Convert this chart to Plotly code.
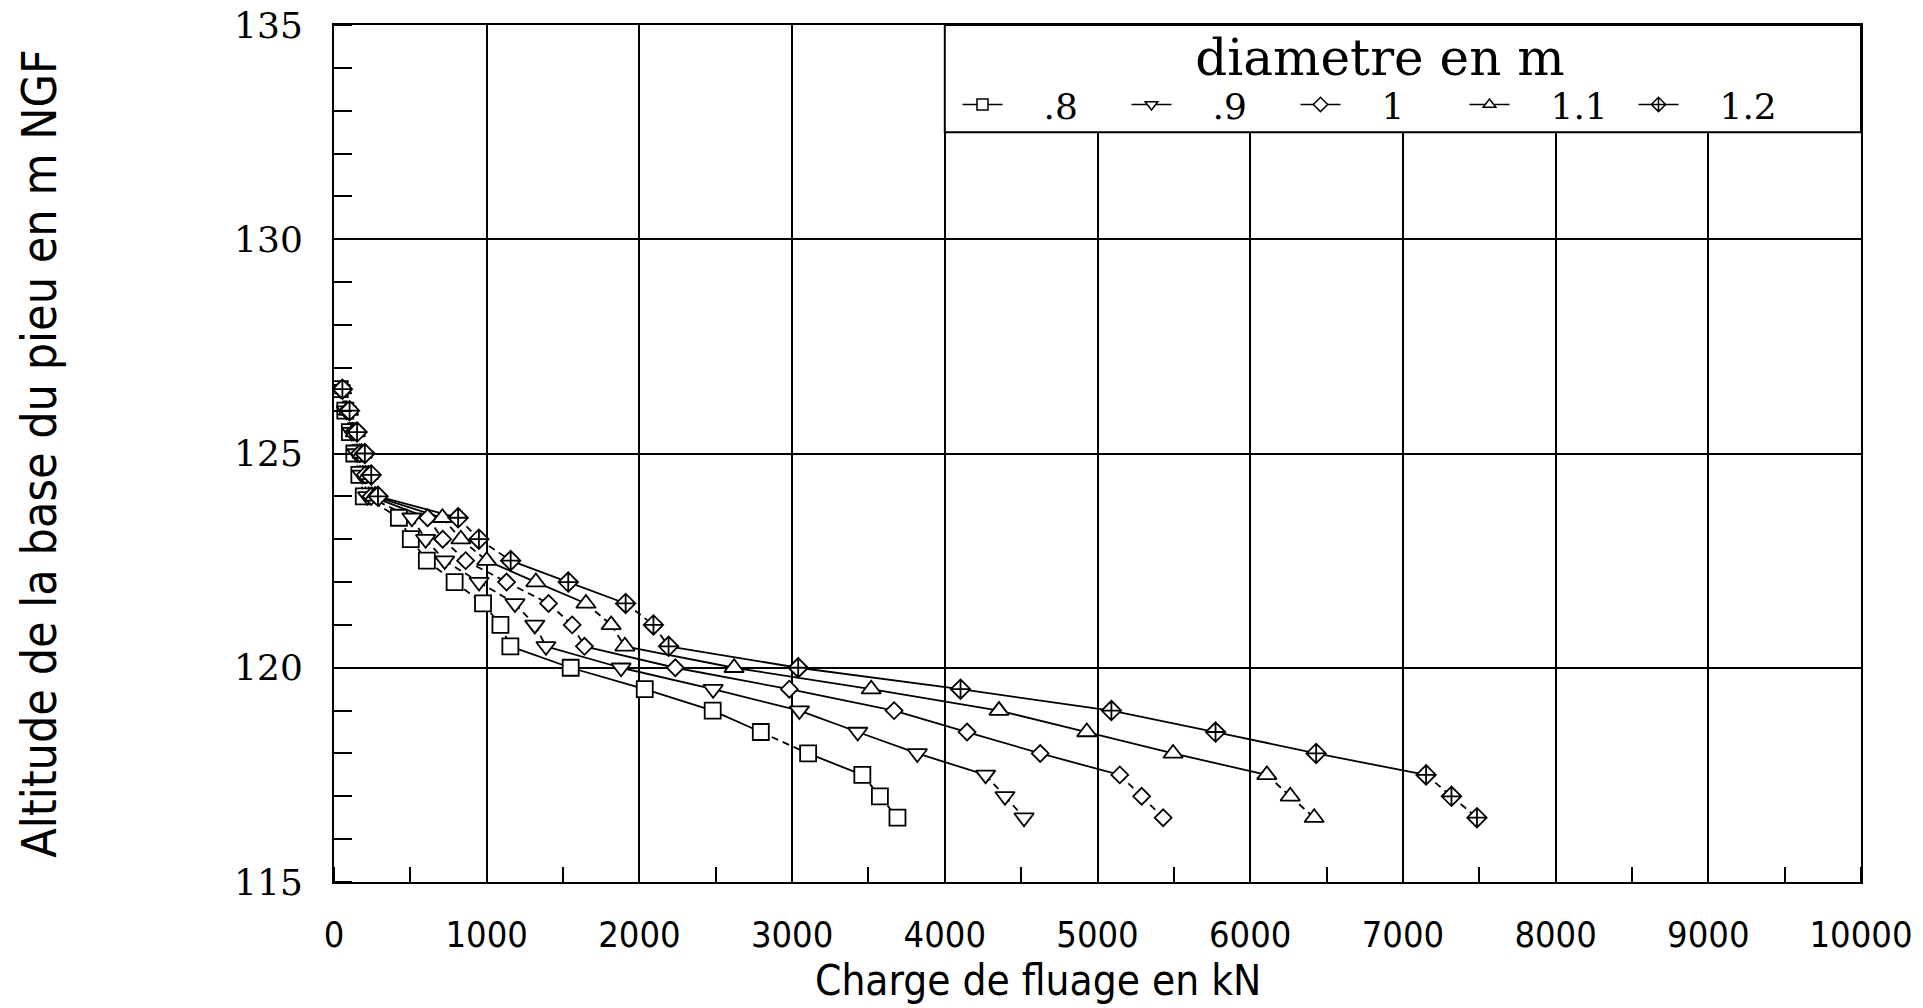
import math
import plotly.graph_objects as go

# ---------------- data ----------------
altitude = [126.5, 126.0, 125.5, 125.0, 124.5, 124.0, 123.5, 123.0, 122.5, 122.0, 121.5,
            121.0, 120.5, 120.0, 119.5, 119.0, 118.5, 118.0, 117.5, 117.0, 116.5]

charge_08 = [38, 74, 104, 133, 166, 195, 425, 503, 608, 790, 976,
             1090, 1155, 1550, 2035, 2480, 2795, 3105, 3460, 3575, 3690]
charge_09 = [42, 81, 116, 150, 185, 220, 510, 600, 725, 950, 1185,
             1315, 1388, 1880, 2483, 3048, 3430, 3820, 4267, 4394, 4519]
charge_10 = [46, 88, 128, 167, 204, 243, 613, 712, 862, 1130, 1405,
             1560, 1640, 2235, 2982, 3668, 4146, 4625, 5146, 5289, 5430]
charge_11 = [50, 95, 140, 185, 224, 265, 710, 831, 1000, 1322, 1650,
             1815, 1905, 2620, 3518, 4355, 4930, 5495, 6109, 6262, 6419]
charge_12 = [55, 102, 151, 202, 244, 288, 813, 949, 1157, 1534, 1910,
             2092, 2191, 3040, 4103, 5091, 5773, 6432, 7152, 7318, 7485]

diametres = [".8", ".9", "1", "1.1", "1.2"]
series = [charge_08, charge_09, charge_10, charge_11, charge_12]

x_ticks = [0, 1000, 2000, 3000, 4000, 5000, 6000, 7000, 8000, 9000, 10000]
y_ticks = [115, 120, 125, 130, 135]
legend_box = dict(x0=4000, x1=10000, y0=132.5, y1=135)

# ---------------- styles ----------------
symbols = ["square", "triangle-down", "diamond", "triangle-up", "diamond-cross"]
msizes = [16, 17, 13, 17, 15]
LW = 1.8
L, R, T, B = 334, 62, 25, 126
W, H = 1923, 1008
px_per_x = (W - L - R) / 10000.0
px_per_y = (H - T - B) / 20.0

fig = go.Figure()

# lines: long segments solid, short ones dashed
for xs in series:
    sx, sy, dx, dy = [], [], [], []
    for i in range(len(xs) - 1):
        ln = math.hypot((xs[i + 1] - xs[i]) * px_per_x, (altitude[i + 1] - altitude[i]) * px_per_y)
        if ln > 52:
            sx += [xs[i], xs[i + 1], None]
            sy += [altitude[i], altitude[i + 1], None]
        else:
            dx += [xs[i], xs[i + 1], None]
            dy += [altitude[i], altitude[i + 1], None]
    fig.add_trace(go.Scatter(x=sx, y=sy, mode="lines", line=dict(color="black", width=LW),
                             showlegend=False, hoverinfo="skip"))
    fig.add_trace(go.Scatter(x=dx, y=dy, mode="lines",
                             line=dict(color="black", width=LW, dash="7px,5px"),
                             showlegend=False, hoverinfo="skip"))

# markers
for xs, sym, ms, name in zip(series, symbols, msizes, diametres):
    fig.add_trace(go.Scatter(x=xs, y=altitude, mode="markers", name=name, showlegend=False,
                             marker=dict(symbol=sym, size=ms, color="white",
                                         line=dict(color="black", width=1.8))))

# legend entries
for sym, name in zip(symbols, diametres):
    fig.add_trace(go.Scatter(x=[None], y=[None], mode="lines+markers",
                             name="\u2002\u2002" + name,
                             line=dict(color="black", width=1.5),
                             marker=dict(symbol=sym, size=11, color="white",
                                         line=dict(color="black", width=1.5))))

# legend box
fig.add_shape(type="rect", xref="x", yref="y", layer="above",
              fillcolor="white", line=dict(color="black", width=2), **legend_box)

serif = "DejaVu Serif, Liberation Serif, serif"
narrow = "Liberation Sans Narrow, DejaVu Sans Condensed, Roboto, sans-serif"

# x axis title (placed slightly left of centre, as in the original)
fig.add_annotation(text="Charge de fluage en kN", xref="paper", yref="paper",
                   x=0.461, y=-0.1155, xanchor="center", yanchor="middle", showarrow=False,
                   font=dict(family=narrow, size=42, color="black"))

fig.update_layout(
    width=W, height=H,
    margin=dict(l=L, r=R, t=T, b=B, autoexpand=False),
    paper_bgcolor="white", plot_bgcolor="white",
    showlegend=True,
    legend=dict(orientation="h", x=0.685, xanchor="center", y=1.018, yanchor="top",
                bgcolor="rgba(0,0,0,0)", borderwidth=0,
                entrywidth=114, entrywidthmode="pixels", itemwidth=40,
                font=dict(family=serif, size=36, color="black"),
                title=dict(text="diametre en m", side="top center",
                           font=dict(family=serif, size=50, color="black"))),
    xaxis=dict(range=[0, 10000], tickvals=x_ticks, ticktext=[str(v) for v in x_ticks],
               showgrid=True, gridcolor="black", gridwidth=2,
               showline=True, linecolor="black", linewidth=2, mirror=True,
               ticks="", zeroline=False, ticklabelstandoff=20,
               tickfont=dict(family=narrow, size=36, color="black"),
               minor=dict(dtick=500, tick0=0, ticks="inside", ticklen=15, tickwidth=1.5,
                          tickcolor="black", showgrid=False)),
    yaxis=dict(range=[115, 135], tickvals=y_ticks, ticktext=[str(v) for v in y_ticks],
               showgrid=True, gridcolor="black", gridwidth=2,
               showline=True, linecolor="black", linewidth=2, mirror=True,
               ticks="", zeroline=False, ticklabelstandoff=22,
               tickfont=dict(family=serif, size=36, color="black"),
               minor=dict(dtick=1, tick0=115, ticks="inside", ticklen=18, tickwidth=1.5,
                          tickcolor="black", showgrid=False),
               title=dict(text="Altitude de la base du pieu en m NGF", standoff=162,
                          font=dict(family=narrow, size=48, color="black"))),
)

fig.write_html("out.html")
